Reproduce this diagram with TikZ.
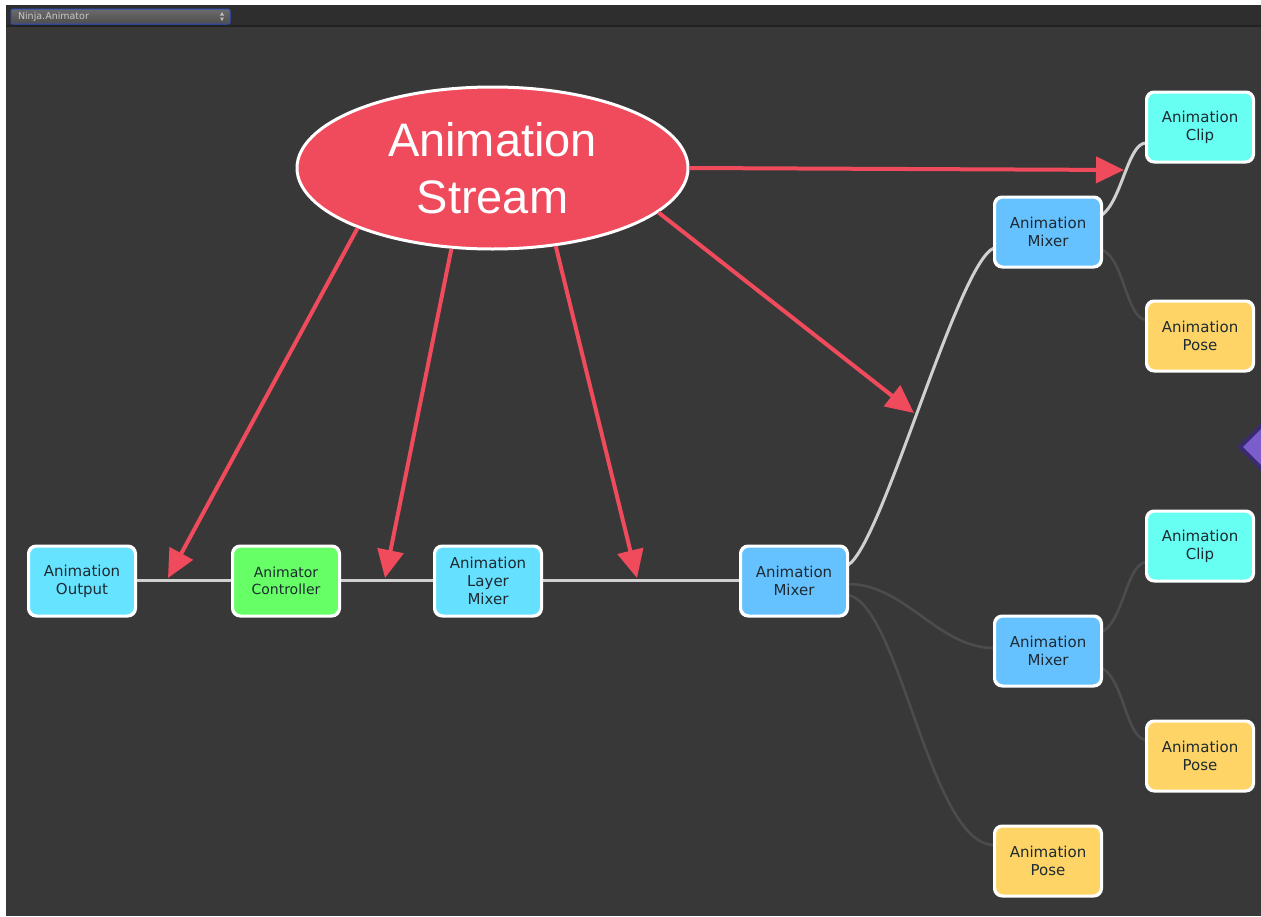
\documentclass[tikz,border=0pt]{standalone}
\usepackage{fontspec}
\setmainfont{DejaVu Sans}
\newfontfamily\streamfont{Liberation Sans}
\usetikzlibrary{shapes.geometric,arrows.meta,calc}

\definecolor{panelbg}{HTML}{383838}
\definecolor{barbg}{HTML}{2E2E2E}
\definecolor{barline}{HTML}{222222}
\definecolor{nodetext}{HTML}{1E2A32}
\definecolor{streamred}{HTML}{EF4B5C}
\definecolor{outcol}{HTML}{66E4FF}
\definecolor{ctrlcol}{HTML}{66FF66}
\definecolor{layercol}{HTML}{66E0FF}
\definecolor{mixcol}{HTML}{66C2FF}
\definecolor{clipcol}{HTML}{66FFF2}
\definecolor{posecol}{HTML}{FFD466}
\definecolor{wirelit}{HTML}{D0D0D0}
\definecolor{wiredim}{HTML}{4C4C4C}
\definecolor{purplefill}{HTML}{7B5DCB}
\definecolor{purpleedge}{HTML}{3A2A70}

\tikzset{
  gnode/.style={draw=white, line width=2pt, rounded corners=8pt,
    minimum width=106pt, minimum height=69pt, inner sep=0pt,
    align=center, text=nodetext, font=\fontsize{15}{18}\selectfont},
  wire/.style={draw=wirelit, line width=3pt},
  dimwire/.style={draw=wiredim, line width=2.6pt},
  redarrow/.style={draw=streamred, line width=4pt,
    -{Triangle[length=28pt,width=26pt]}},
}

\begin{document}
\begin{tikzpicture}[x=1pt,y=-1pt]
\useasboundingbox (0,0) rectangle (1261,916);

% page and editor panel
\fill[white] (0,0) rectangle (1261,916);
\fill[panelbg] (6,5) rectangle (1261,916);
\fill[barbg] (6,5) rectangle (1261,25);
\fill[barline] (6,25) rectangle (1261,26.5);

% graph selector in the toolbar
\node[draw={rgb,255:red,48;green,80;blue,200}, line width=1pt, rounded corners=2pt,
      top color=black!58, bottom color=black!70,
      minimum width=219pt, minimum height=15pt, inner sep=0pt,
      text width=205pt, align=left, text={rgb,255:red,200;green,200;blue,200},
      font=\fontsize{9.5}{10}\selectfont] (selector) at (120.5,16.5) {Ninja.Animator};
\fill[black!25] (220,15.5) -- (224,15.5) -- (222,12) -- cycle;
\fill[black!25] (220,17.5) -- (224,17.5) -- (222,21) -- cycle;

% purple node at the right edge
\begin{scope}
  \clip (6,27) rectangle (1261,916);
  \draw[fill=purplefill, draw=purpleedge, line width=4pt]
    (1240,447) -- (1290,397) -- (1340,447) -- (1290,497) -- cycle;
\end{scope}

% graph nodes
\node[gnode, fill=outcol] (out) at (82,581) {Animation\\Output};
\node[gnode, fill=ctrlcol, font=\fontsize{14}{17}\selectfont] (ctrl) at (286,581) {Animator\\Controller};
\node[gnode, fill=layercol] (layer) at (488,581) {Animation\\Layer\\Mixer};
\node[gnode, fill=mixcol] (mix) at (794,581) {Animation\\Mixer};
\node[gnode, fill=mixcol] (mixtop) at (1048,232) {Animation\\Mixer};
\node[gnode, fill=clipcol] (cliptop) at (1200,127) {Animation\\Clip};
\node[gnode, fill=posecol] (posetop) at (1200,336) {Animation\\Pose};
\node[gnode, fill=clipcol] (cliplow) at (1200,546) {Animation\\Clip};
\node[gnode, fill=mixcol] (mixlow) at (1048,651) {Animation\\Mixer};
\node[gnode, fill=posecol] (poselow) at (1200,756) {Animation\\Pose};
\node[gnode, fill=posecol] (posebot) at (1048,861) {Animation\\Pose};

% connections between nodes
\draw[wire] ($(out.east)+(0,-1)$) -- ($(ctrl.west)+(0,-1)$);
\draw[wire] ($(ctrl.east)+(0,-1)$) -- ($(layer.west)+(0,-1)$);
\draw[wire] ($(layer.east)+(0,-1)$) -- ($(mix.west)+(0,-1)$);
\draw[wire] ($(mix.east)+(0,-16)$) .. controls (882,545) and (958,262) .. ($(mixtop.west)+(0,16)$);
\draw[wire] ($(mixtop.east)+(0,-17)$) .. controls (1122,200) and (1128,143) .. ($(cliptop.west)+(0,16)$);
\draw[dimwire] ($(mixtop.east)+(0,18)$) .. controls (1124,258) and (1126,318) .. ($(posetop.west)+(0,-16)$);
\draw[dimwire] ($(mix.east)+(0,3)$) .. controls (905,584) and (938,648) .. ($(mixlow.west)+(0,-3)$);
\draw[dimwire] ($(mix.east)+(0,14)$) .. controls (900,605) and (930,845) .. ($(posebot.west)+(0,-16)$);
\draw[dimwire] ($(mixlow.east)+(0,-19)$) .. controls (1124,620) and (1126,565) .. ($(cliplow.west)+(0,16)$);
\draw[dimwire] ($(mixlow.east)+(0,17)$) .. controls (1124,680) and (1126,738) .. ($(poselow.west)+(0,-16)$);

% redraw node borders above the wire ends
\foreach \n in {out,ctrl,layer,mix,mixtop,cliptop,posetop,cliplow,mixlow,poselow,posebot}
  \draw[white, line width=2pt, rounded corners=8pt] (\n.south west) rectangle (\n.north east);

% animation stream
\node[ellipse, fill=streamred, draw=white, line width=3pt,
      minimum width=391pt, minimum height=162pt, inner sep=0pt,
      text=white, align=center,
      font=\streamfont\fontsize{47}{57}\selectfont] (stream) at (492.5,168) {Animation\\Stream};

\coordinate (tipout) at (168,578);
\coordinate (tipctrl) at (385,578);
\coordinate (tiplayer) at (637,578);
\coordinate (tipmix) at (914,413);
\coordinate (tipclip) at (1124,170);

\draw[redarrow] (stream.204.8) -- (tipout);
\draw[redarrow] (stream.243.7) -- (tipctrl);
\draw[redarrow] (stream.309) -- (tiplayer);
\draw[redarrow] (stream.345.5) -- (tipmix);
\draw[redarrow] (stream.0) -- (tipclip);
\end{tikzpicture}
\end{document}
